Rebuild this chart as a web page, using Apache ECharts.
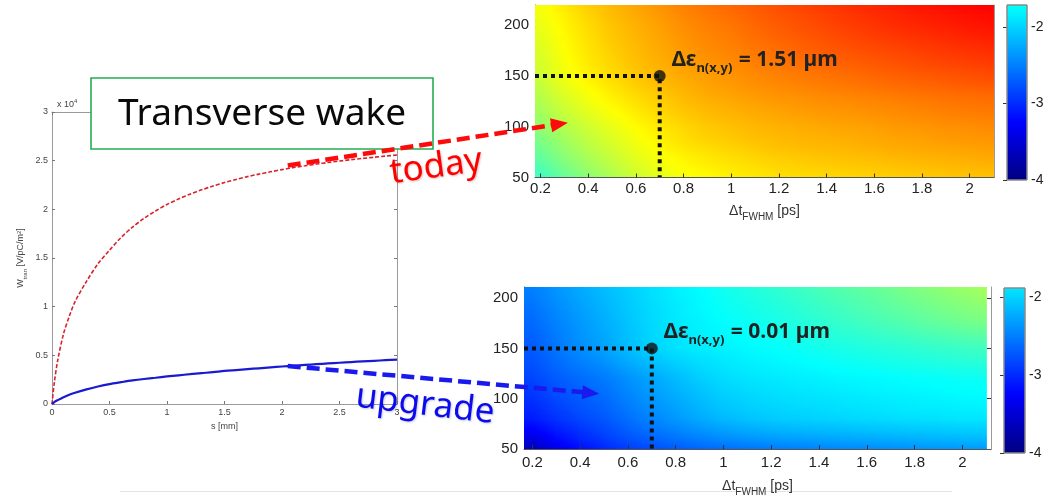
<!DOCTYPE html>
<html>
<head>
<meta charset="utf-8">
<script src="https://cdn.jsdelivr.net/npm/echarts/dist/echarts.min.js"></script>
<style>
  html, body { margin: 0; padding: 0; background: #fff; }
  #c { width: 1048px; height: 498px; }
</style>
</head>
<body>
<div id="c"></div>
<script>
// ---- Transverse wake W_tran(s), in units of 1e4 V/pC/m^2 ----
const sPos = [0, 0.02, 0.05, 0.1, 0.15, 0.2, 0.3, 0.4, 0.5, 0.6, 0.7, 0.8, 0.9, 1.0, 1.1, 1.2, 1.3, 1.4, 1.5,
              1.6, 1.7, 1.8, 1.9, 2.0, 2.1, 2.2, 2.3, 2.4, 2.5, 2.6, 2.7, 2.8, 2.9, 3.0];
const wakeToday = [0, 0.22, 0.45, 0.72, 0.90, 1.05, 1.26, 1.44, 1.58, 1.71, 1.817, 1.907, 1.983, 2.05, 2.106, 2.156, 2.20, 2.24, 2.275,
                   2.307, 2.336, 2.362, 2.386, 2.408, 2.429, 2.447, 2.465, 2.481, 2.496, 2.51, 2.523, 2.535, 2.547, 2.558];
const wakeUpgrade = [0, 0.02, 0.04, 0.07, 0.095, 0.115, 0.15, 0.18, 0.205, 0.224, 0.242, 0.257, 0.27, 0.283, 0.295, 0.306, 0.317, 0.327, 0.34,
                     0.349, 0.358, 0.367, 0.376, 0.385, 0.393, 0.401, 0.409, 0.417, 0.424, 0.431, 0.438, 0.444, 0.45, 0.456];

// ---- Emittance growth maps: log10(Δε_n [µm]) over bunch length (columns) and rows ----
const dtFwhm = [0.2, 0.3, 0.4, 0.5, 0.6, 0.7, 0.8, 0.9, 1.0, 1.1, 1.2, 1.3, 1.4, 1.5, 1.6, 1.7, 1.8, 1.9, 2.0, 2.1];

const rowsToday = [50, 60, 70, 80, 90, 100, 110, 120, 130, 140, 150, 160, 170, 180, 190, 200, 210, 220];
const logEmitToday = [
  [-1.40,-1.15,-0.93,-0.74,-0.55,-0.40,-0.30,-0.23,-0.17,-0.12,-0.07,-0.04,-0.02,0.00,0.02,0.04,0.06,0.08,0.10,0.11],
  [-1.29,-1.05,-0.84,-0.66,-0.48,-0.34,-0.24,-0.17,-0.11,-0.06,-0.01,0.02,0.04,0.06,0.08,0.11,0.13,0.15,0.17,0.18],
  [-1.18,-0.95,-0.75,-0.58,-0.41,-0.28,-0.18,-0.11,-0.05,0.00,0.05,0.08,0.11,0.13,0.15,0.18,0.20,0.22,0.24,0.26],
  [-1.08,-0.86,-0.67,-0.51,-0.35,-0.22,-0.11,-0.04,0.015,0.07,0.12,0.15,0.17,0.19,0.22,0.25,0.27,0.29,0.31,0.33],
  [-0.99,-0.78,-0.60,-0.44,-0.29,-0.17,-0.05,0.03,0.08,0.13,0.17,0.20,0.22,0.24,0.27,0.30,0.32,0.35,0.37,0.39],
  [-0.90,-0.70,-0.53,-0.38,-0.24,-0.12,-0.01,0.07,0.12,0.17,0.21,0.24,0.27,0.29,0.32,0.35,0.37,0.40,0.42,0.44],
  [-0.82,-0.61,-0.45,-0.30,-0.17,-0.05,0.05,0.13,0.18,0.23,0.27,0.30,0.33,0.35,0.38,0.41,0.44,0.47,0.49,0.51],
  [-0.75,-0.54,-0.37,-0.23,-0.10,0.01,0.11,0.18,0.23,0.28,0.32,0.36,0.39,0.41,0.44,0.47,0.50,0.53,0.55,0.57],
  [-0.68,-0.46,-0.30,-0.16,-0.04,0.07,0.16,0.24,0.29,0.34,0.38,0.41,0.44,0.47,0.50,0.53,0.56,0.59,0.61,0.63],
  [-0.61,-0.39,-0.23,-0.10,0.03,0.13,0.21,0.29,0.34,0.40,0.44,0.48,0.52,0.55,0.59,0.62,0.65,0.68,0.71,0.73],
  [-0.55,-0.33,-0.17,-0.04,0.08,0.18,0.26,0.33,0.38,0.44,0.49,0.53,0.57,0.61,0.65,0.69,0.72,0.75,0.78,0.81],
  [-0.51,-0.30,-0.14,-0.01,0.11,0.21,0.30,0.37,0.42,0.49,0.54,0.59,0.64,0.68,0.72,0.76,0.80,0.83,0.86,0.89],
  [-0.47,-0.27,-0.11,0.02,0.14,0.24,0.33,0.41,0.46,0.53,0.59,0.65,0.70,0.74,0.78,0.82,0.86,0.90,0.93,0.96],
  [-0.44,-0.25,-0.09,0.05,0.16,0.26,0.36,0.44,0.50,0.57,0.63,0.69,0.75,0.80,0.84,0.88,0.92,0.96,0.99,1.02],
  [-0.40,-0.22,-0.06,0.08,0.19,0.29,0.39,0.47,0.53,0.61,0.68,0.74,0.80,0.85,0.90,0.94,0.98,1.02,1.06,1.09],
  [-0.37,-0.20,-0.04,0.10,0.21,0.31,0.42,0.50,0.56,0.65,0.72,0.78,0.84,0.90,0.95,1.00,1.04,1.08,1.12,1.15],
  [-0.33,-0.16,0.00,0.14,0.25,0.35,0.46,0.54,0.61,0.69,0.76,0.82,0.88,0.94,0.99,1.04,1.09,1.13,1.17,1.20],
  [-0.30,-0.12,0.04,0.17,0.28,0.38,0.49,0.58,0.65,0.73,0.80,0.87,0.93,0.99,1.04,1.09,1.14,1.18,1.22,1.25]
];

const rowsUpgrade = [50, 60, 70, 80, 90, 100, 110, 120, 130, 140, 150, 160, 170, 180, 190, 200, 210];
const logEmitUpgrade = [
  [-3.65,-3.38,-3.18,-3.02,-2.90,-2.80,-2.72,-2.66,-2.61,-2.57,-2.53,-2.50,-2.47,-2.45,-2.43,-2.41,-2.39,-2.37,-2.35,-2.34],
  [-3.43,-3.21,-3.04,-2.91,-2.78,-2.67,-2.58,-2.50,-2.43,-2.38,-2.34,-2.31,-2.29,-2.27,-2.25,-2.23,-2.21,-2.19,-2.17,-2.16],
  [-3.25,-3.08,-2.94,-2.82,-2.68,-2.56,-2.46,-2.37,-2.29,-2.23,-2.19,-2.16,-2.14,-2.12,-2.10,-2.08,-2.06,-2.05,-2.03,-2.02],
  [-3.10,-2.96,-2.84,-2.74,-2.60,-2.47,-2.36,-2.25,-2.16,-2.10,-2.06,-2.03,-2.01,-1.99,-1.97,-1.95,-1.93,-1.92,-1.90,-1.89],
  [-3.03,-2.89,-2.77,-2.68,-2.54,-2.41,-2.30,-2.19,-2.10,-2.04,-2.01,-1.98,-1.96,-1.93,-1.91,-1.89,-1.87,-1.86,-1.84,-1.83],
  [-2.97,-2.83,-2.72,-2.63,-2.49,-2.36,-2.25,-2.14,-2.05,-2.00,-1.96,-1.93,-1.91,-1.89,-1.87,-1.85,-1.83,-1.81,-1.79,-1.78],
  [-2.91,-2.77,-2.67,-2.58,-2.44,-2.31,-2.20,-2.09,-2.00,-1.95,-1.92,-1.89,-1.87,-1.84,-1.82,-1.80,-1.78,-1.76,-1.74,-1.73],
  [-2.85,-2.72,-2.62,-2.53,-2.40,-2.27,-2.15,-2.04,-1.96,-1.91,-1.88,-1.85,-1.83,-1.80,-1.78,-1.76,-1.74,-1.72,-1.70,-1.69],
  [-2.80,-2.66,-2.55,-2.45,-2.31,-2.18,-2.07,-1.98,-1.91,-1.86,-1.83,-1.80,-1.77,-1.73,-1.71,-1.68,-1.65,-1.63,-1.60,-1.58],
  [-2.76,-2.61,-2.48,-2.37,-2.22,-2.09,-1.99,-1.92,-1.87,-1.82,-1.79,-1.75,-1.71,-1.67,-1.64,-1.60,-1.57,-1.54,-1.50,-1.48],
  [-2.72,-2.56,-2.42,-2.29,-2.14,-2.00,-1.92,-1.86,-1.82,-1.78,-1.74,-1.70,-1.65,-1.61,-1.57,-1.53,-1.49,-1.45,-1.41,-1.38],
  [-2.69,-2.53,-2.39,-2.27,-2.12,-1.99,-1.91,-1.84,-1.79,-1.75,-1.70,-1.65,-1.59,-1.54,-1.49,-1.44,-1.39,-1.34,-1.29,-1.25],
  [-2.65,-2.50,-2.37,-2.24,-2.11,-1.98,-1.89,-1.83,-1.77,-1.71,-1.66,-1.60,-1.53,-1.47,-1.41,-1.35,-1.29,-1.23,-1.17,-1.12],
  [-2.62,-2.47,-2.34,-2.22,-2.09,-1.97,-1.88,-1.81,-1.74,-1.68,-1.62,-1.55,-1.48,-1.41,-1.34,-1.27,-1.20,-1.13,-1.06,-1.00],
  [-2.58,-2.44,-2.31,-2.19,-2.07,-1.96,-1.87,-1.79,-1.71,-1.65,-1.58,-1.51,-1.43,-1.36,-1.28,-1.21,-1.14,-1.06,-0.99,-0.93],
  [-2.54,-2.40,-2.28,-2.17,-2.05,-1.94,-1.85,-1.78,-1.69,-1.61,-1.54,-1.46,-1.38,-1.30,-1.23,-1.15,-1.07,-1.00,-0.92,-0.85],
  [-2.50,-2.37,-2.25,-2.14,-2.03,-1.93,-1.84,-1.76,-1.66,-1.58,-1.50,-1.42,-1.33,-1.25,-1.17,-1.09,-1.01,-0.93,-0.85,-0.78]
];

// Working point and the emittance growth quoted there
const workPoint   = [0.7, 150];
const emitToday   = 1.51;   // µm
const emitUpgrade = 0.01;   // µm

// Tick labels
const sTicks   = [0, 0.5, 1, 1.5, 2, 2.5, 3];
const dtTicks  = [0.2, 0.4, 0.6, 0.8, 1, 1.2, 1.4, 1.6, 1.8, 2];
const rowTicks = [50, 100, 150, 200];
const cbTicks  = [-4, -3, -2];

// Colour scale (jet) and the visible part of each colour bar
const colorMin = -4, colorMax = 2;
const cbRangeToday   = [-4, -1.71];
const cbRangeUpgrade = [-4, -1.885];

// Axis extents of the two maps
const dtExtentToday    = [0.177, 2.102];
const rowExtentToday   = [50, 220];
const dtExtentUpgrade  = [0.165, 2.12];
const rowExtentUpgrade = [50, 211];

// Arrow anchors, in data coordinates of the grids they join
const arrowToday   = { from: [2.05, 2.45], to: [0.315, 104] };
const arrowUpgrade = { from: [2.05, 0.39], to: [0.48, 105] };

// ---------------------------------------------------------------
function jet(v) {
  const t = Math.min(1, Math.max(0, (v - colorMin) / (colorMax - colorMin)));
  const c = x => Math.round(255 * Math.min(1, Math.max(0, x)));
  const r = c(Math.min(4 * t - 1.5, -4 * t + 4.5));
  const g = c(Math.min(4 * t - 0.5, -4 * t + 3.5));
  const b = c(Math.min(4 * t + 0.5, -4 * t + 2.5));
  return 'rgb(' + r + ',' + g + ',' + b + ')';
}

// one item per grid cell: [x0, x1, y0, y1, v(x0,y0), v(x1,y0), v(x0,y1), v(x1,y1)];
// the first column / last row are held flat out to the axis edge
function quadsFrom(xs, rows, grid, xMin, yMax) {
  const padL = xs[0] > xMin ? 1 : 0;
  const X = padL ? [xMin].concat(xs) : xs.slice();
  const Y = rows[rows.length - 1] < yMax ? rows.concat([yMax]) : rows.slice();
  const val = (i, j) => grid[Math.min(j, rows.length - 1)][Math.max(0, i - padL)];
  const out = [];
  for (let j = 0; j < Y.length - 1; j++) {
    for (let i = 0; i < X.length - 1; i++) {
      out.push([X[i], X[i + 1], Y[j], Y[j + 1], val(i, j), val(i + 1, j), val(i, j + 1), val(i + 1, j + 1)]);
    }
  }
  return out;
}

// a triangle shaded along the plane through its three corner values
function shadedTriangle(a, b, c, va, vb, vc) {
  const d1x = b[0] - a[0], d1y = b[1] - a[1], d2x = c[0] - a[0], d2y = c[1] - a[1];
  const dv1 = vb - va, dv2 = vc - va;
  const det = d1x * d2y - d2x * d1y;
  const gx = (dv1 * d2y - dv2 * d1y) / det;
  const gy = (d1x * dv2 - d2x * dv1) / det;
  const g2 = gx * gx + gy * gy;
  const pts = [a, b, c], vals = [va, vb, vc];
  let fill;
  if (!isFinite(g2) || g2 < 1e-12) {
    fill = jet(va);
  } else {
    const lo = Math.min(va, vb, vc), hi = Math.max(va, vb, vc);
    const s = pts[vals.indexOf(lo)];
    const t = (hi - lo) / g2;
    const stops = [];
    for (let m = 0; m <= 4; m++) stops.push({ offset: m / 4, color: jet(lo + (hi - lo) * m / 4) });
    fill = { type: 'linear', global: true, x: s[0], y: s[1], x2: s[0] + gx * t, y2: s[1] + gy * t, colorStops: stops };
  }
  return { type: 'polygon', shape: { points: pts }, style: { fill: fill, stroke: fill, lineWidth: 0.8, lineJoin: 'round' } };
}

function renderQuad(params, api) {
  const x0 = api.value(0), x1 = api.value(1), y0 = api.value(2), y1 = api.value(3);
  const v00 = api.value(4), v10 = api.value(5), v01 = api.value(6), v11 = api.value(7);
  const p00 = api.coord([x0, y0]), p10 = api.coord([x1, y0]);
  const p01 = api.coord([x0, y1]), p11 = api.coord([x1, y1]);
  return { type: 'group', children: [
    shadedTriangle(p00, p10, p11, v00, v10, v11),
    shadedTriangle(p00, p11, p01, v00, v11, v01)
  ] };
}

function renderColorBar(params, api) {
  const lo = api.value(0), hi = api.value(1);
  const a = api.coord([0, lo]), b = api.coord([1, hi]);
  const stops = [];
  for (let k = 0; k <= 24; k++) stops.push({ offset: k / 24, color: jet(hi - (hi - lo) * k / 24) });
  return {
    type: 'rect',
    shape: { x: a[0], y: b[1], width: b[0] - a[0], height: a[1] - b[1] },
    style: { fill: { type: 'linear', x: 0, y: 0, x2: 0, y2: 1, colorStops: stops }, stroke: '#8a8a8a', lineWidth: 1 }
  };
}

const sansNum = "'Liberation Sans', Arial, sans-serif";
const sansText = "'Noto Sans', 'Open Sans', sans-serif";

const smallAxisLabel = { fontSize: 9, color: '#444', fontFamily: sansNum, margin: 4 };
const mapAxisLabel = { fontSize: 15, color: '#222', fontFamily: sansNum };

function dtAxis(grid, ext, labelMargin, nameGap) {
  return {
    type: 'value', gridIndex: grid, position: 'bottom', min: ext[0], max: ext[1], z: 6,
    axisLine: { show: true, onZero: false, lineStyle: { color: '#555', width: 1 } },
    axisTick: { show: true, inside: true, length: 4, customValues: dtTicks, lineStyle: { color: '#333' } },
    axisLabel: Object.assign({ customValues: dtTicks, margin: labelMargin }, mapAxisLabel),
    splitLine: { show: false },
    name: '{a|Δt}{s|FWHM}{a| [ps]}', nameLocation: 'middle', nameGap: nameGap,
    nameTextStyle: { rich: {
      a: { fontSize: 14, color: '#333', fontFamily: sansNum, lineHeight: 18, verticalAlign: 'top' },
      s: { fontSize: 10, color: '#333', fontFamily: sansNum, lineHeight: 16, verticalAlign: 'bottom' } } }
  };
}
function rowAxis(grid, ext) {
  return {
    type: 'value', gridIndex: grid, position: 'left', min: ext[0], max: ext[1],
    axisLine: { show: true, onZero: false, lineStyle: { color: '#555', width: 1 } },
    axisTick: { show: true, inside: true, length: 4, customValues: rowTicks, lineStyle: { color: '#333' } },
    axisLabel: Object.assign({ customValues: rowTicks, margin: 6 }, mapAxisLabel),
    splitLine: { show: false }
  };
}
function rowAxisRight(grid, ext) {
  return {
    type: 'value', gridIndex: grid, position: 'right', min: ext[0], max: ext[1],
    axisLine: { show: true, onZero: false, lineStyle: { color: '#999', width: 1 } },
    axisTick: { show: true, inside: true, length: 4, customValues: rowTicks, lineStyle: { color: '#333' } },
    axisLabel: { show: false }, splitLine: { show: false }
  };
}
function cbAxis(grid, range) {
  return {
    type: 'value', gridIndex: grid, position: 'right', min: range[0], max: range[1],
    axisLine: { show: false },
    axisTick: { show: true, inside: true, length: 4, customValues: cbTicks, lineStyle: { color: '#333' } },
    axisLabel: Object.assign({ customValues: cbTicks, margin: 4 }, mapAxisLabel, { fontSize: 14 }),
    splitLine: { show: false }
  };
}
function hiddenX(grid) {
  return { type: 'value', gridIndex: grid, min: 0, max: 1, show: false };
}

const option = {
  animation: false,
  backgroundColor: '#ffffff',
  grid: [
    { left: 52,   top: 112, width: 345, height: 292 },
    { left: 535,  top: 5,   width: 459, height: 172.5 },
    { left: 524,  top: 287, width: 467, height: 167 },
    { left: 1007, top: 5,   width: 20,  height: 175 },
    { left: 1004, top: 288, width: 21,  height: 165 }
  ],
  xAxis: [
    { type: 'value', gridIndex: 0, position: 'bottom', min: 0, max: 3, interval: 0.5,
      axisLine: { show: true, onZero: false, lineStyle: { color: '#9a9a9a' } },
      axisTick: { show: true, inside: true, length: 3, lineStyle: { color: '#777' } },
      axisLabel: Object.assign({ customValues: sTicks }, smallAxisLabel), splitLine: { show: false },
      name: 's [mm]', nameLocation: 'middle', nameGap: 13,
      nameTextStyle: { fontSize: 9, color: '#444', fontFamily: sansNum } },
    { type: 'value', gridIndex: 0, position: 'top', min: 0, max: 3, interval: 0.5,
      axisLine: { show: true, onZero: false, lineStyle: { color: '#9a9a9a' } },
      axisTick: { show: true, inside: true, length: 3, lineStyle: { color: '#777' } },
      axisLabel: { show: false }, splitLine: { show: false } },
    dtAxis(1, dtExtentToday, 4, 27),
    dtAxis(2, dtExtentUpgrade, 6, 30),
    hiddenX(3),
    hiddenX(4)
  ],
  yAxis: [
    { type: 'value', gridIndex: 0, position: 'left', min: 0, max: 3, interval: 0.5,
      axisLine: { show: true, onZero: false, lineStyle: { color: '#9a9a9a' } },
      axisTick: { show: true, inside: true, length: 3, lineStyle: { color: '#777' } },
      axisLabel: smallAxisLabel, splitLine: { show: false },
      name: '{a|W}{s|tran}{a| [V/pC/m}{p|2}{a|]}', nameLocation: 'middle', nameGap: 24, nameRotate: 90,
      nameTextStyle: { rich: {
        a: { fontSize: 9, color: '#444', fontFamily: sansNum, lineHeight: 12, verticalAlign: 'top' },
        s: { fontSize: 6, color: '#444', fontFamily: sansNum, lineHeight: 9, verticalAlign: 'bottom' },
        p: { fontSize: 6, color: '#444', fontFamily: sansNum, lineHeight: 7, verticalAlign: 'top' } } } },
    { type: 'value', gridIndex: 0, position: 'right', min: 0, max: 3, interval: 0.5,
      axisLine: { show: true, onZero: false, lineStyle: { color: '#9a9a9a' } },
      axisTick: { show: true, inside: true, length: 3, lineStyle: { color: '#777' } },
      axisLabel: { show: false }, splitLine: { show: false } },
    rowAxis(1, rowExtentToday),
    rowAxisRight(1, rowExtentToday),
    rowAxis(2, rowExtentUpgrade),
    rowAxisRight(2, rowExtentUpgrade),
    cbAxis(3, cbRangeToday),
    cbAxis(4, cbRangeUpgrade)
  ],
  series: [
    { name: 'today', type: 'line', xAxisIndex: 0, yAxisIndex: 0,
      data: sPos.map((s, i) => [s, wakeToday[i]]),
      smooth: 0.3, showSymbol: false, z: 3,
      lineStyle: { color: '#d8232d', width: 1.6, type: [4, 2] } },
    { name: 'upgrade', type: 'line', xAxisIndex: 0, yAxisIndex: 0,
      data: sPos.map((s, i) => [s, wakeUpgrade[i]]),
      smooth: 0.3, showSymbol: false, z: 3,
      lineStyle: { color: '#1a1ad0', width: 2.2 } },

    { type: 'custom', xAxisIndex: 2, yAxisIndex: 2, renderItem: renderQuad, clip: true,
      data: quadsFrom(dtFwhm, rowsToday, logEmitToday, dtExtentToday[0], rowExtentToday[1]),
      encode: { x: [0, 1], y: [2, 3] }, z: 1, silent: true },
    { type: 'custom', xAxisIndex: 3, yAxisIndex: 4, renderItem: renderQuad, clip: true,
      data: quadsFrom(dtFwhm, rowsUpgrade, logEmitUpgrade, dtExtentUpgrade[0], rowExtentUpgrade[1]),
      encode: { x: [0, 1], y: [2, 3] }, z: 1, silent: true },

    { type: 'custom', xAxisIndex: 4, yAxisIndex: 6, renderItem: renderColorBar,
      data: [cbRangeToday], encode: { y: [0, 1] }, z: 1, silent: true },
    { type: 'custom', xAxisIndex: 5, yAxisIndex: 7, renderItem: renderColorBar,
      data: [cbRangeUpgrade], encode: { y: [0, 1] }, z: 1, silent: true },

    // dotted guides to the working point
    { type: 'line', xAxisIndex: 2, yAxisIndex: 2, z: 5, showSymbol: false, silent: true,
      data: [[dtExtentToday[0], workPoint[1]], workPoint, [workPoint[0], rowExtentToday[0]]],
      lineStyle: { color: '#111', width: 4, type: [4, 4], cap: 'butt' } },
    { type: 'line', xAxisIndex: 3, yAxisIndex: 4, z: 5, showSymbol: false, silent: true,
      data: [[dtExtentUpgrade[0], workPoint[1]], workPoint, [workPoint[0], rowExtentUpgrade[0]]],
      lineStyle: { color: '#111', width: 4, type: [4, 4], cap: 'butt' } },
    { type: 'scatter', xAxisIndex: 2, yAxisIndex: 2, z: 6, silent: true,
      data: [workPoint], symbolSize: 12, itemStyle: { color: '#111' } },
    { type: 'scatter', xAxisIndex: 3, yAxisIndex: 4, z: 6, silent: true,
      data: [workPoint], symbolSize: 12, itemStyle: { color: '#111' } }
  ]
};

const chart = echarts.init(document.getElementById('c'), null, { renderer: 'canvas' });
chart.setOption(option);

// ---- annotations placed from data coordinates ----
function arrow(p, q, color) {
  const dx = q[0] - p[0], dy = q[1] - p[1];
  const len = Math.hypot(dx, dy), ux = dx / len, uy = dy / len;
  const headL = 17, headW = 14;
  const bx = q[0] - ux * headL, by = q[1] - uy * headL;
  return [
    { type: 'line', z: 120, silent: true,
      shape: { x1: p[0], y1: p[1], x2: bx + ux * 2, y2: by + uy * 2 },
      style: { stroke: color, lineWidth: 4.5, lineDash: [13, 6] } },
    { type: 'polygon', z: 120, silent: true,
      shape: { points: [[q[0], q[1]], [bx - uy * headW / 2, by + ux * headW / 2], [bx + uy * headW / 2, by - ux * headW / 2]] },
      style: { fill: color } }
  ];
}

const measureCtx = document.createElement('canvas').getContext('2d');
function textWidth(str, font) { measureCtx.font = font; return measureCtx.measureText(str).width; }

// "Δε_n(x,y) = value µm" beside the working point
function emitLabel(dot, value) {
  const mainFont = "bold 21px 'Noto Sans'", subFont = "bold 13px 'Noto Sans'";
  const head = 'Δε', sub = 'n(x,y)', tail = ' = ' + value.toFixed(2) + ' µm';
  const x0 = dot[0] + 12;
  const x1 = x0 + textWidth(head, mainFont);
  const x2 = x1 + textWidth(sub, subFont) + 1;
  const yMain = dot[1] - 16, ySub = dot[1] - 8;
  const base = { fontFamily: 'Noto Sans', fontWeight: 'bold', fill: '#222', align: 'left', verticalAlign: 'middle' };
  return [
    { type: 'text', z: 130, silent: true, x: x0, y: yMain, style: Object.assign({ text: head, fontSize: 21 }, base) },
    { type: 'text', z: 130, silent: true, x: x1, y: ySub,  style: Object.assign({ text: sub,  fontSize: 13 }, base) },
    { type: 'text', z: 130, silent: true, x: x2, y: yMain, style: Object.assign({ text: tail, fontSize: 21 }, base) }
  ];
}

const pTodayFrom = chart.convertToPixel({ gridIndex: 0 }, arrowToday.from);
const pTodayTo   = chart.convertToPixel({ gridIndex: 1 }, arrowToday.to);
const pUpFrom    = chart.convertToPixel({ gridIndex: 0 }, arrowUpgrade.from);
const pUpTo      = chart.convertToPixel({ gridIndex: 2 }, arrowUpgrade.to);
const dotToday   = chart.convertToPixel({ gridIndex: 1 }, workPoint);
const dotUpgrade = chart.convertToPixel({ gridIndex: 2 }, workPoint);
const axisTop    = chart.convertToPixel({ gridIndex: 0 }, [0, 3]);

chart.setOption({
  graphic: [
    // faint rule at the foot, behind the axis title
    { type: 'line', z: -1, silent: true, shape: { x1: 120, y1: 491.5, x2: 952, y2: 491.5 },
      style: { stroke: '#e4e4e4', lineWidth: 1 } },
    // scale factor of the wake axis
    { type: 'text', z: 90, silent: true, x: axisTop[0] + 5, y: axisTop[1] - 3,
      style: { text: '{a|x 10}{p|4}', verticalAlign: 'bottom',
        rich: { a: { fontSize: 9, fill: '#444', fontFamily: sansNum, lineHeight: 11, verticalAlign: 'bottom' },
                p: { fontSize: 6, fill: '#444', fontFamily: sansNum, lineHeight: 7, verticalAlign: 'top' } } } },
    // title box
    { type: 'rect', z: 100, silent: true,
      shape: { x: 91, y: 78, width: 342, height: 71 },
      style: { fill: '#ffffff', stroke: '#25ad52', lineWidth: 1.6 } },
    { type: 'text', z: 101, silent: true, x: 262, y: 114,
      style: { text: 'Transverse wake', fontSize: 37, fontFamily: sansText, fill: '#0a0a0a', align: 'center', verticalAlign: 'middle' } },
    ...arrow(pTodayFrom, pTodayTo, '#ff0a0a'),
    ...arrow(pUpFrom, pUpTo, '#1a1aee'),
    { type: 'text', z: 125, silent: true, x: 436, y: 167, rotation: 0.14,
      style: { text: 'today', fontSize: 35, fontFamily: sansText, fill: '#ff0000', align: 'center', verticalAlign: 'middle',
        textShadowColor: 'rgba(120,0,0,0.25)', textShadowBlur: 2, textShadowOffsetX: 1, textShadowOffsetY: 1 } },
    { type: 'text', z: 125, silent: true, x: 425, y: 405, rotation: -0.12,
      style: { text: 'upgrade', fontSize: 35, fontFamily: sansText, fill: '#0b0bee', align: 'center', verticalAlign: 'middle',
        textShadowColor: 'rgba(0,0,80,0.2)', textShadowBlur: 2, textShadowOffsetX: 1, textShadowOffsetY: 1 } },
    ...emitLabel(dotToday, emitToday),
    ...emitLabel(dotUpgrade, emitUpgrade)
  ]
});
</script>
</body>
</html>
